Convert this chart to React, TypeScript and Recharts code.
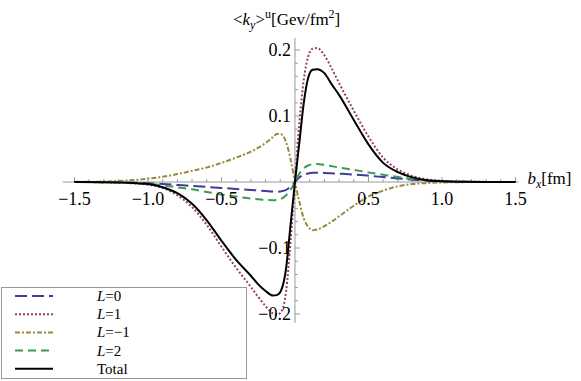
import { LineChart, Line, XAxis, YAxis, ReferenceLine, ReferenceDot, Legend } from 'recharts'

// b_x in fm
const bx = [-1.5, -1.3, -1.1, -1.0, -0.9, -0.8, -0.7, -0.6, -0.5, -0.4, -0.3, -0.25, -0.2, -0.15, -0.12, -0.09, -0.06, -0.03, 0, 0.03, 0.06, 0.09, 0.12, 0.15, 0.2, 0.25, 0.3, 0.4, 0.5, 0.6, 0.7, 0.8, 0.9, 1.0, 1.1, 1.3, 1.5]

const l0 = [0, -0.0002, -0.001, -0.002, -0.003, -0.0045, -0.006, -0.0075, -0.009, -0.0105, -0.012, -0.0128, -0.0136, -0.0145, -0.0146, -0.014, -0.012, -0.007, 0, 0.007, 0.011, 0.013, 0.014, 0.0142, 0.0138, 0.0132, 0.0126, 0.0113, 0.0095, 0.0075, 0.0055, 0.0035, 0.002, 0.001, 0.0005, 0.0001, 0]
const l1 = [0, -0.0004, -0.002, -0.004, -0.009, -0.02, -0.038, -0.065, -0.098, -0.13, -0.159, -0.174, -0.188, -0.199, -0.201, -0.195, -0.165, -0.09, 0, 0.09, 0.155, 0.19, 0.202, 0.203, 0.192, 0.172, 0.15, 0.108, 0.069, 0.037, 0.019, 0.009, 0.004, 0.0018, 0.0008, 0.0002, 0]
const lm1 = [0.0002, 0.0008, 0.003, 0.005, 0.008, 0.012, 0.017, 0.022, 0.029, 0.037, 0.046, 0.052, 0.059, 0.068, 0.073, 0.072, 0.06, 0.035, 0, -0.03, -0.055, -0.068, -0.073, -0.072, -0.067, -0.06, -0.052, -0.036, -0.022, -0.013, -0.0065, -0.003, -0.0015, -0.0007, -0.0003, 0, 0]
const l2 = [0, -0.0003, -0.0015, -0.003, -0.005, -0.008, -0.011, -0.015, -0.019, -0.022, -0.025, -0.026, -0.027, -0.0275, -0.027, -0.025, -0.02, -0.012, 0, 0.013, 0.021, 0.025, 0.027, 0.0272, 0.026, 0.024, 0.022, 0.0185, 0.0145, 0.011, 0.0075, 0.0045, 0.0025, 0.0012, 0.0005, 0.0001, 0]
const total = [-0.0001, -0.0003, -0.0015, -0.003, -0.008, -0.017, -0.033, -0.058, -0.089, -0.118, -0.142, -0.155, -0.165, -0.172, -0.171, -0.162, -0.13, -0.065, 0, 0.06, 0.12, 0.158, 0.17, 0.171, 0.165, 0.148, 0.132, 0.094, 0.057, 0.029, 0.015, 0.007, 0.0025, 0.0012, 0.0005, 0.0001, 0]

const seriesKeys = ['l0', 'l1', 'lm1', 'l2', 'total']
const seriesNames = ['L=0', 'L=1', 'L=\u22121', 'L=2', 'Total']
const seriesColors = ['#3D3D99', '#993D71', '#998B3D', '#3D9956', '#000000']
const seriesDash = ['12 5', '2 2', '5 2 2 2', '8 5', undefined]

const xTicks = [-1.5, -1, -0.5, 0.5, 1, 1.5]
const xTickLabels = ['\u22121.5', '\u22121.0', '\u22120.5', '0.5', '1.0', '1.5']
const yTicks = [-0.2, -0.1, 0.1, 0.2]
const yTickLabels = ['\u22120.2', '\u22120.1', '0.1', '0.2']

const data = bx.map((x, i) => ({
  bx: x, l0: l0[i], l1: l1[i], lm1: lm1[i], l2: l2[i], total: total[i],
}))

// minor ticks: every 0.1 on x, every 0.02 on y
const xMinor = Array.from({ length: 31 }, (_, i) => (i - 15) / 10)
  .filter((v) => v !== 0 && !xTicks.includes(v))
const yMinor = Array.from({ length: 21 }, (_, i) => Math.round((i - 10) * 2) / 100)
  .filter((v) => v !== 0 && !yTicks.includes(v))

const serif = 'Liberation Serif'
const axisGray = '#999'

function LegendBox() {
  return (
    <div style={{ width: 244, height: 90, border: '1px solid #999', background: '#fff', fontFamily: serif }}>
      <svg width={244} height={90}>
        {seriesKeys.map((k, i) => {
          const cy = 8 + i * 18.2
          const name = seriesNames[i]
          return (
            <g key={k}>
              <line x1={13} x2={51} y1={cy} y2={cy} stroke={seriesColors[i]} strokeWidth={2} strokeDasharray={seriesDash[i]} />
              <text x={95} y={cy + 5} fontSize={15} fill="#000" style={{ fontFamily: serif }}>
                {name.startsWith('L') ? (
                  <>
                    <tspan fontStyle="italic">L</tspan>
                    <tspan>{name.slice(1)}</tspan>
                  </>
                ) : name}
              </text>
            </g>
          )
        })}
      </svg>
    </div>
  )
}

const tickText = { fontSize: 18, fill: '#000', style: { fontFamily: serif } }

export default function App() {
  return (
    <div style={{ position: 'absolute', left: 0, top: 0, width: 581, height: 381, background: '#fff', fontFamily: serif }}>
      <LineChart width={581} height={381} data={data} margin={{ top: 38, right: 62.6, bottom: 58, left: 62.7 }}>
        <XAxis type="number" dataKey="bx" domain={[-1.58, 1.52]} hide allowDataOverflow />
        <YAxis type="number" domain={[-0.2136, 0.2182]} hide allowDataOverflow />
        <ReferenceLine y={0} stroke={axisGray} strokeWidth={1} />
        <ReferenceLine x={0} stroke={axisGray} strokeWidth={1} />
        {xMinor.map((t) => (
          <ReferenceLine key={'xm' + t} segment={[{ x: t, y: 0 }, { x: t, y: 0.0045 }]} stroke={axisGray} />
        ))}
        {xTicks.map((t) => (
          <ReferenceLine key={'xM' + t} segment={[{ x: t, y: 0 }, { x: t, y: 0.0076 }]} stroke={axisGray} />
        ))}
        {yMinor.map((t) => (
          <ReferenceLine key={'ym' + t} segment={[{ x: 0, y: t }, { x: 0.02, y: t }]} stroke={axisGray} />
        ))}
        {yTicks.map((t) => (
          <ReferenceLine key={'yM' + t} segment={[{ x: 0, y: t }, { x: 0.034, y: t }]} stroke={axisGray} />
        ))}
        {xTicks.map((t, i) => (
          <ReferenceDot key={'xl' + t} x={t} y={0} r={0} fill="none" stroke="none" ifOverflow="visible"
            label={{ value: xTickLabels[i], position: 'bottom', offset: 10, ...tickText }} />
        ))}
        {yTicks.map((t, i) => (
          <ReferenceDot key={'yl' + t} x={0} y={t} r={0} fill="none" stroke="none" ifOverflow="visible"
            label={{ value: yTickLabels[i], position: 'left', offset: 4, ...tickText }} />
        ))}
        <ReferenceDot x={0} y={0.2182} r={0} fill="none" stroke="none" ifOverflow="visible"
          label={(p: any) => (
            <text x={p.viewBox.x - 62} y={p.viewBox.y - 13} fontSize={17} fill="#000" style={{ fontFamily: serif }}>
              {'<'}
              <tspan fontStyle="italic">k</tspan>
              <tspan fontStyle="italic" fontSize={12} dy={4}>y</tspan>
              <tspan dy={-4}>{'>'}</tspan>
              <tspan fontSize={12} dy={-7}>u</tspan>
              <tspan dy={7}>[Gev/fm</tspan>
              <tspan fontSize={12} dy={-7}>2</tspan>
              <tspan dy={7}>]</tspan>
            </text>
          )} />
        <ReferenceDot x={1.52} y={0} r={0} fill="none" stroke="none" ifOverflow="visible"
          label={(p: any) => (
            <text x={p.viewBox.x + 9} y={p.viewBox.y + 2} fontSize={17} fill="#000" style={{ fontFamily: serif }}>
              <tspan fontStyle="italic">b</tspan>
              <tspan fontStyle="italic" fontSize={12} dy={4}>x</tspan>
              <tspan dy={-4}>[fm]</tspan>
            </text>
          )} />
        {seriesKeys.map((k, i) => (
          <Line key={k} type="monotone" dataKey={k} name={seriesNames[i]} stroke={seriesColors[i]}
            strokeWidth={2} strokeDasharray={seriesDash[i]} dot={false} activeDot={false} isAnimationActive={false} />
        ))}
        <Legend layout="vertical" align="center" verticalAlign="middle"
          wrapperStyle={{ left: 1, top: 287, width: 'auto', height: 'auto' }}
          content={() => <LegendBox />} />
      </LineChart>
    </div>
  )
}
